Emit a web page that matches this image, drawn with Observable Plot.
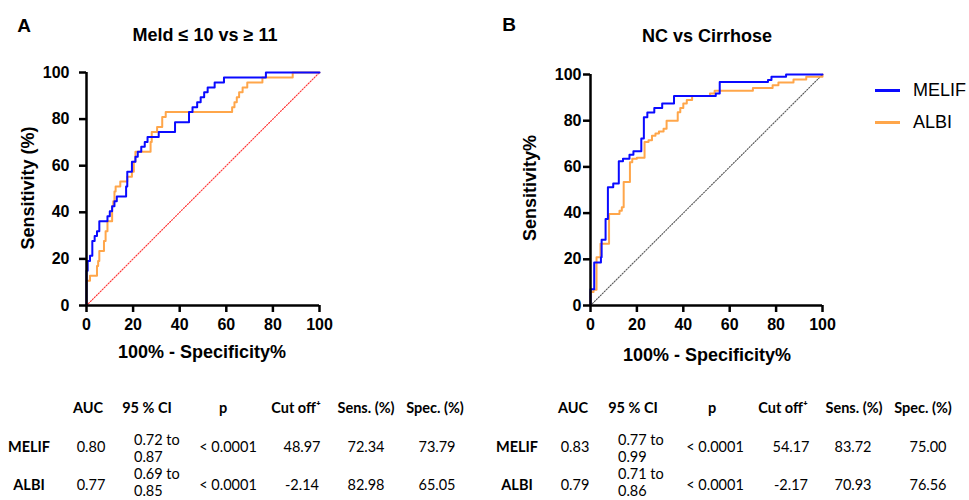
<!DOCTYPE html>
<html><head><meta charset="utf-8">
<script src="https://cdn.jsdelivr.net/npm/d3@7"></script>
<script src="https://cdn.jsdelivr.net/npm/@observablehq/plot@0.6"></script>
<style>
body{margin:0;background:#fff;}
#root{position:relative;width:969px;height:500px;overflow:hidden;font-family:Arial,"Liberation Sans",sans-serif;color:#000;}
.abs{position:absolute;white-space:nowrap;line-height:1;}
.c{transform:translate(-50%,-50%);}
.l{transform:translate(0,-50%);}
.tbl{font-family:Lato,"Open Sans",sans-serif;font-size:14.5px;}
.b{font-weight:bold;}
#root svg{overflow:visible;}
#root svg text{font-size:16px !important;font-weight:bold !important;fill:#000;font-family:Arial,"Liberation Sans",sans-serif;}
</style></head><body><div id="root"></div>
<script>
// ---------- data ----------
const series = ["MELIF", "ALBI"];
const seriesColors = ["#0a0aff", "#ffa64a"];
const ticks = [0, 20, 40, 60, 80, 100];
const diagonal = [0, 100];

// Panel A: Meld <= 10 vs >= 11  (100% - specificity, sensitivity)
const aMelifFpr  = [0, 0, 0.5, 1.5, 2.5, 3.5, 4.5, 5.5, 9, 10, 11, 12, 13, 17, 17.5, 19.5, 21, 22, 23.5, 25, 26.2, 31, 38, 44, 45.5, 47.5, 49, 50.5, 52, 55, 59, 77, 100];
const aMelifSens = [0, 14.9, 19.1, 21.3, 27.7, 29.8, 31.9, 36.2, 38.3, 40.4, 42.6, 44.7, 46.8, 51.1, 57.4, 61.7, 63.8, 66.0, 68.1, 70.2, 72.3, 74.5, 78.7, 83.0, 85.1, 87.2, 89.4, 91.5, 93.6, 95.7, 97.9, 100, 100];
const aAlbiFpr   = [0, 0, 1.5, 4.5, 5, 5.5, 7.5, 8.2, 9, 11, 11.5, 12, 12.5, 14.5, 17.5, 19.5, 20.3, 21, 27.5, 28, 30.3, 32.5, 34, 62.5, 63.5, 64.5, 65.5, 67, 69, 75.5, 88.5, 100];
const aAlbiSens  = [0, 10.6, 12.8, 17.0, 19.1, 23.4, 27.7, 31.9, 36.2, 42.6, 44.7, 48.9, 51.1, 53.2, 55.3, 57.4, 61.7, 66.0, 70.2, 74.5, 76.6, 80.9, 83.0, 85.1, 87.2, 89.4, 91.5, 93.6, 95.7, 97.9, 100, 100];

// Panel B: NC vs Cirrhose
const bMelifFpr  = [0, 0, 1.6, 4.5, 4.8, 6.5, 7.5, 9.8, 12.2, 14, 16.8, 18.5, 21.9, 23, 24.5, 27.5, 30.9, 36, 54, 55.7, 76.5, 78, 84.3, 100];
const bMelifSens = [0, 7.0, 18.6, 20.9, 28.5, 37.5, 51.2, 52.8, 62.5, 63.5, 65.3, 66.8, 72.3, 81.5, 83.5, 85.5, 87.4, 90.7, 91.8, 96.7, 97.6, 99.0, 100, 100];
const bAlbiFpr   = [0, 0, 1.3, 2.6, 4.3, 8, 12.5, 13.5, 14.3, 17, 18, 20, 23.3, 25, 26.5, 28, 29.5, 31.5, 32.8, 37.6, 38.7, 40, 41.5, 43.8, 51.5, 53.5, 70, 78.5, 81, 87.5, 93, 100];
const bAlbiSens  = [0, 5.8, 6.8, 20.9, 26.7, 39.6, 41.0, 42.5, 53.5, 62.0, 63.5, 64.0, 70.8, 71.5, 73.5, 74.5, 75.3, 76.5, 80.0, 83.7, 85.5, 87.5, 89.0, 90.7, 91.8, 93.0, 94.2, 95.3, 96.5, 97.8, 99.0, 100];

// Tables
const tableHeaders = ["AUC", "95 % CI", "p", "Cut off\u207A", "Sens. (%)", "Spec. (%)"];
const aAuc  = ["0.80", "0.77"];
const aCi   = [["0.72 to", "0.87"], ["0.69 to", "0.85"]];
const aP    = ["< 0.0001", "< 0.0001"];
const aCut  = ["48.97", "-2.14"];
const aSens = ["72.34", "82.98"];
const aSpec = ["73.79", "65.05"];
const bAuc  = ["0.83", "0.79"];
const bCi   = [["0.77 to", "0.99"], ["0.71 to", "0.86"]];
const bP    = ["< 0.0001", "< 0.0001"];
const bCut  = ["54.17", "-2.17"];
const bSens = ["83.72", "70.93"];
const bSpec = ["75.00", "76.56"];

// ---------- build ----------
const root = document.getElementById("root");
function txt(s, x, y, cls, style) {
  const d = document.createElement("div");
  d.className = "abs " + (cls || "");
  d.textContent = s;
  d.style.left = x + "px"; d.style.top = y + "px";
  if (style) Object.assign(d.style, style);
  root.appendChild(d);
  return d;
}
function rows(fpr, sens, name) { return fpr.map((x, i) => ({x, y: sens[i], s: name})); }

function panel(opts) {
  const data = [
    ...rows(opts.melif[0], opts.melif[1], series[0]),
    ...rows(opts.albi[0], opts.albi[1], series[1])
  ];
  const axisText = {fontSize: 16, fontWeight: "bold", fill: "#000"};
  const p = Plot.plot({
    width: opts.width, height: 370,
    marginLeft: opts.ml, marginRight: opts.mr, marginTop: opts.mt, marginBottom: 65,
    style: {fontFamily: "Arial, 'Liberation Sans', sans-serif", fontSize: "16px", fontWeight: "bold", color: "#000", background: "transparent"},
    x: {domain: [0, 100]},
    y: {domain: [0, 100]},
    color: {domain: series, range: seriesColors},
    marks: [
      Plot.line(diagonal, {x: d => d, y: d => d, stroke: opts.diagColor, strokeWidth: 1.1, strokeDasharray: "1.2,1.6"}),
      Plot.line(data.filter(d => d.s === series[1]), {x: "x", y: "y", stroke: "s", strokeWidth: 2, curve: "step-after"}),
      Plot.line(data.filter(d => d.s === series[0]), {x: "x", y: "y", stroke: "s", strokeWidth: 2, curve: "step-after"}),
      Plot.axisX({ticks, tickSize: 7, tickPadding: 6, strokeWidth: 2.5, label: null, ...axisText}),
      Plot.axisY({ticks, tickSize: 7, tickPadding: opts.ytp, strokeWidth: 2.5, label: null, ...axisText}),
      Plot.ruleX([0], {strokeWidth: 2.5, stroke: "#000"}),
      Plot.ruleY([0], {strokeWidth: 2.5, stroke: "#000"})
    ]
  });
  p.style.position = "absolute";
  p.style.left = opts.left + "px";
  p.style.top = "0px";
  root.appendChild(p);
}

panel({left: 0, width: 340, ml: 86, mr: 21, mt: 72, ytp: 10, diagColor: "#ff3030",
       melif: [aMelifFpr, aMelifSens], albi: [aAlbiFpr, aAlbiSens]});
panel({left: 490, width: 360, ml: 100, mr: 28, mt: 74, ytp: 2, diagColor: "#555",
       melif: [bMelifFpr, bMelifSens], albi: [bAlbiFpr, bAlbiSens]});

// titles, letters, axis labels
const big = {fontSize: "18px", fontWeight: "bold"};
txt("A", 24, 25, "c", {fontSize: "19px", fontWeight: "bold"});
txt("Meld \u2264 10 vs \u2265 11", 205, 35, "c", big);
txt("B", 509, 24, "c", {fontSize: "19px", fontWeight: "bold"});
txt("NC vs Cirrhose", 707, 36, "c", big);
txt("Sensitivity (%)", 28, 188, "", Object.assign({transform: "translate(-50%,-50%) rotate(-90deg)"}, big));
txt("100% - Specificity%", 202, 352, "c", big);
txt("Sensitivity%", 530, 188, "", Object.assign({transform: "translate(-50%,-50%) rotate(-90deg)"}, big));
txt("100% - Specificity%", 707, 355, "c", big);

// legend
series.forEach((s, i) => {
  const ln = document.createElement("div");
  ln.className = "abs";
  Object.assign(ln.style, {left: "875px", top: (89 + i * 32) + "px", width: "25px", height: "2.5px", background: seriesColors[i]});
  root.appendChild(ln);
  txt(s, 913, 90 + i * 32, "l", {fontSize: "18px"});
});

// tables
function table(x0, auc, ci, p, cut, sens, spec, hx, vx, ciLeft) {
  tableHeaders.forEach((h, i) => txt(h, hx[i], 408, "c tbl b"));
  series.forEach((s, r) => {
    const y = [447, 485][r];
    const ciY = [[440, 457], [474, 491]][r];
    txt(s, x0, y, "c tbl b");
    txt(auc[r], vx[0], y, "c tbl");
    txt(ci[r][0], ciLeft, ciY[0], "l tbl");
    txt(ci[r][1], ciLeft, ciY[1], "l tbl");
    txt(p[r], vx[1], y, "c tbl");
    txt(cut[r], vx[2], y, "c tbl");
    txt(sens[r], vx[3], y, "c tbl");
    txt(spec[r], vx[4], y, "c tbl");
  });
}
table(29, aAuc, aCi, aP, aCut, aSens, aSpec, [88, 147, 223, 296, 366, 435], [91, 228, 302, 366, 437], 134);
table(517, bAuc, bCi, bP, bCut, bSens, bSpec, [573, 633, 712, 783, 854, 923], [575, 715, 791, 853, 928], 618);
</script></body></html>
